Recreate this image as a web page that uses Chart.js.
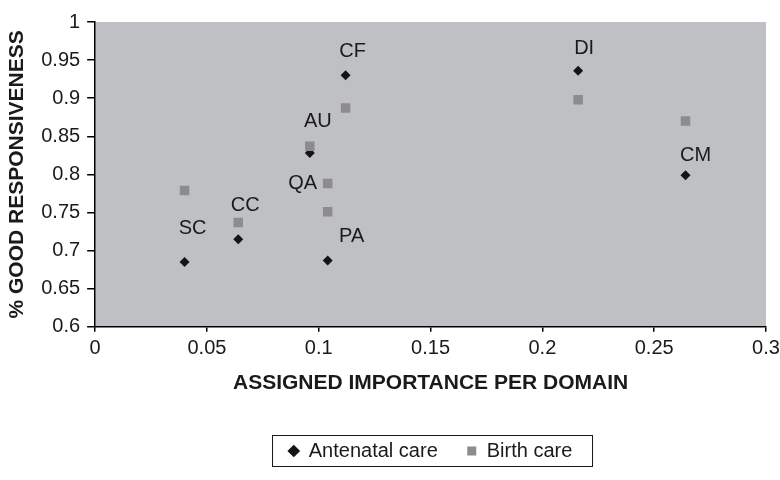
<!DOCTYPE html>
<html>
<head>
<meta charset="utf-8">
<script src="https://cdn.jsdelivr.net/npm/chart.js@4"></script>
<style>
  html, body { margin: 0; padding: 0; background: #fff; }
  #wrap { width: 780px; height: 480px; }
</style>
</head>
<body>
<div id="wrap"><canvas id="chart"></canvas></div>
<script>
// domains and values
const domains = ['SC', 'CC', 'AU', 'QA', 'PA', 'CF', 'DI', 'CM'];
const importance = [0.040, 0.064, 0.096, 0.104, 0.104, 0.112, 0.216, 0.264];
const antenatal = [0.685, 0.715, 0.828, null, 0.687, 0.930, 0.936, 0.799];
const birth = [0.779, 0.737, 0.837, 0.788, 0.751, 0.887, 0.898, 0.870];
const seriesNames = ['Antenatal care', 'Birth care'];
const xTicks = [0, 0.05, 0.1, 0.15, 0.2, 0.25, 0.3];
const yTicks = [0.6, 0.65, 0.7, 0.75, 0.8, 0.85, 0.9, 0.95, 1];

const FONT = "'Liberation Sans', Arial, Helvetica, sans-serif";
Chart.defaults.font.family = FONT;
Chart.defaults.color = '#1a1a1a';

const toPoints = ys => importance
    .map((x, i) => ({ x: x, y: ys[i] }))
    .filter(p => p.y !== null);

// label offsets (pixels) relative to the point they belong to
const labelOffsets = {
    SC: [8, -34], CC: [7, -34], AU: [8, -32], QA: [-25, 0],
    PA: [24, -24], CF: [7, -24], DI: [6, -22], CM: [10, -20]
};

const chartDecor = {
    id: 'chartDecor',
    beforeDraw(chart) {
        const { ctx, chartArea: a } = chart;
        ctx.save();
        ctx.fillStyle = '#bfc0c4';
        ctx.fillRect(a.left, a.top, a.right - a.left, a.bottom - a.top);
        ctx.restore();
    },
    afterDatasetsDraw(chart) {
        const { ctx, scales } = chart;
        ctx.save();
        ctx.font = '20px ' + FONT;
        ctx.fillStyle = '#1a1a1a';
        ctx.textAlign = 'center';
        ctx.textBaseline = 'middle';
        domains.forEach((d, i) => {
            const yv = antenatal[i] !== null ? antenatal[i] : birth[i];
            const off = labelOffsets[d];
            const px = scales.x.getPixelForValue(importance[i]) + off[0];
            const py = scales.y.getPixelForValue(yv) + off[1];
            ctx.fillText(d, px, py);
        });
        ctx.restore();
    },
    afterDraw(chart) {
        const hb = chart.legend && chart.legend.legendHitBoxes;
        if (!hb || !hb.length) return;
        const { ctx } = chart;
        const first = hb[0], last = hb[hb.length - 1];
        const left = Math.round(first.left - 17) + 0.5;
        const right = Math.round(last.left + last.width + 20) + 0.5;
        const top = Math.round(first.top - 6) + 0.5;
        const bottom = Math.round(first.top + first.height + 5) + 0.5;
        ctx.save();
        ctx.strokeStyle = '#1a1a1a';
        ctx.lineWidth = 1;
        ctx.strokeRect(left, top, right - left, bottom - top);
        ctx.restore();
    }
};

const fmt = v => String(Number(Number(v).toFixed(2)));

new Chart(document.getElementById('chart'), {
    type: 'scatter',
    data: {
        datasets: [
            {
                label: seriesNames[0],
                data: toPoints(antenatal),
                pointStyle: 'rectRot',
                pointRadius: 5,
                pointHoverRadius: 5,
                backgroundColor: '#141414',
                borderColor: '#141414',
                borderWidth: 0,
                order: 1
            },
            {
                label: seriesNames[1],
                data: toPoints(birth),
                pointStyle: 'rect',
                pointRadius: 6.7,
                pointHoverRadius: 6.7,
                backgroundColor: '#8c8c8e',
                borderColor: '#8c8c8e',
                borderWidth: 0,
                order: 0
            }
        ]
    },
    options: {
        responsive: true,
        maintainAspectRatio: false,
        animation: false,
        layout: { padding: { left: 0, right: 0, top: 22, bottom: 9 } },
        plugins: {
            tooltip: { enabled: false },
            legend: {
                position: 'bottom',
                fullSize: false,
                labels: {
                    usePointStyle: true,
                    boxWidth: 10,
                    boxHeight: 9,
                    padding: 29,
                    color: '#1a1a1a',
                    font: { size: 20 },
                    sort: (a, b) => a.datasetIndex - b.datasetIndex
                }
            }
        },
        scales: {
            x: {
                type: 'linear',
                min: 0,
                max: 0.3,
                afterBuildTicks: s => { s.ticks = xTicks.map(v => ({ value: v })); },
                afterFit: s => { s.paddingRight = 14; },
                ticks: { font: { size: 20 }, color: '#1a1a1a', padding: 5, maxRotation: 0, autoSkip: false, callback: fmt },
                grid: { drawOnChartArea: false, drawTicks: true, tickLength: 5, color: '#000', lineWidth: 1.5 },
                border: { display: true, color: '#000', width: 1.5 },
                title: {
                    display: true,
                    text: 'ASSIGNED IMPORTANCE PER DOMAIN',
                    font: { size: 21, weight: 'bold' },
                    color: '#1a1a1a',
                    padding: { top: 5, bottom: 16 }
                }
            },
            y: {
                type: 'linear',
                min: 0.6,
                max: 1,
                afterBuildTicks: s => { s.ticks = yTicks.map(v => ({ value: v })); },
                ticks: { font: { size: 20 }, color: '#1a1a1a', padding: 7, autoSkip: false, callback: fmt },
                grid: { drawOnChartArea: false, drawTicks: true, tickLength: 8, color: '#000', lineWidth: 1.5 },
                border: { display: true, color: '#000', width: 1.5 },
                title: {
                    display: true,
                    text: '% GOOD RESPONSIVENESS',
                    font: { size: 21, weight: 'bold' },
                    color: '#1a1a1a',
                    padding: { top: 5, bottom: 4 }
                }
            }
        }
    },
    plugins: [chartDecor]
});
</script>
</body>
</html>
